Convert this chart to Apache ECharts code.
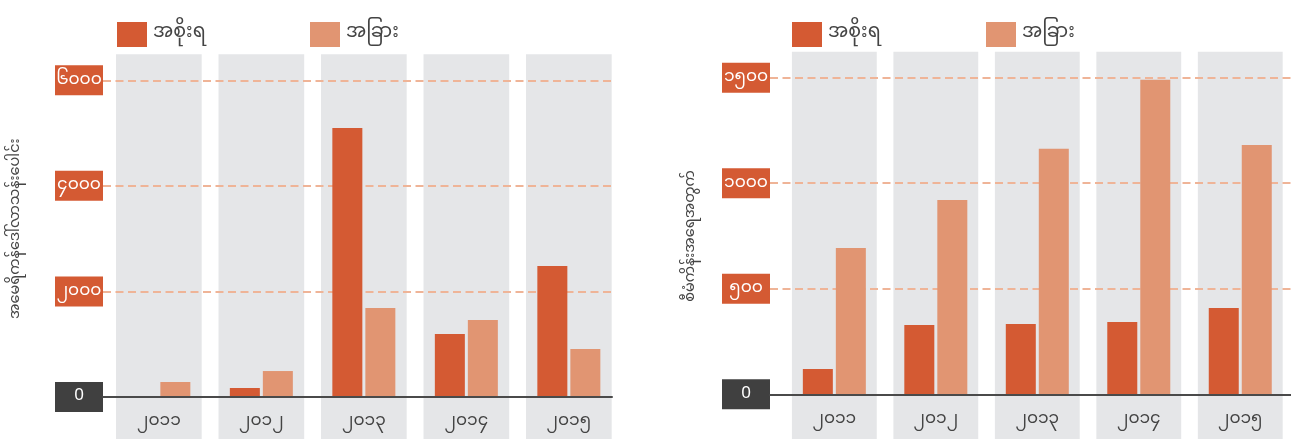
<!DOCTYPE html>
<html>
<head>
<meta charset="utf-8">
<script src="https://cdn.jsdelivr.net/npm/echarts@6/dist/echarts.min.js"></script>
<style>
  html, body { margin: 0; padding: 0; background: #fff; }
  #chart { width: 1291px; height: 439px; }
</style>
</head>
<body>
<div id="chart"></div>
<script>
// Years shown on both panels
const years = ['၂၀၁၁', '၂၀၁၂', '၂၀၁၃', '၂၀၁၄', '၂၀၁၅'];
const seriesNames = ['အစိုးရ', 'အခြား'];

// Left panel: value in US$ millions
const valueGov = [0, 170, 5095, 1193, 2481];
const valueOther = [284, 492, 1686, 1458, 909];
const valueTicks = [0, 2000, 4000, 6000];
const valueTickLabels = ['0', '၂၀၀၀', '၄၀၀၀', '၆၀၀၀'];
const valueTitle = 'အမေရိကန်ဒေါ်လာသန်းပေါင်း';

// Right panel: number of projects
const countGov = [120, 328, 333, 343, 409];
const countOther = [693, 921, 1163, 1490, 1181];
const countTicks = [0, 500, 1000, 1500];
const countTickLabels = ['0', '၅၀၀', '၁၀၀၀', '၁၅၀၀'];
const countTitle = 'စီမံကိန်းအရေအတွက်';

const GOV = '#d45a33';
const OTHER = '#e19572';
const BAND = '#e5e6e8';
const GRIDLINE = '#efb497';
const AXIS = '#4a4a4a';
const TEXT = '#444444';
const FONT = "'Noto Sans Myanmar', 'Noto Sans', 'DejaVu Sans', sans-serif";

const chart = echarts.init(document.getElementById('chart'), null, { renderer: 'canvas' });

function tickFormatter(ticks, labels) {
  return function (v) {
    const i = ticks.indexOf(v);
    const txt = i >= 0 ? labels[i] : String(v);
    return v === 0 ? '{z|' + txt + '}' : '{o|' + txt + '}';
  };
}

const boxStyle = { color: '#fff', width: 48, height: 27, lineHeight: 27, padding: [3, 0, 0, 0], align: 'center', verticalAlign: 'middle', fontSize: 17, fontFamily: FONT };
const labelRich = {
  o: Object.assign({ backgroundColor: GOV }, boxStyle),
  z: Object.assign({ backgroundColor: '#404040' }, boxStyle)
};

// Grey column behind each year, reaching from above the top gridline to the bottom edge
function bandRenderer(params, api) {
  const c = api.coord([api.value(0), 0]);
  const w = api.size([1, 0])[0] * 0.836;
  const top = params.coordSys.y - 26;
  return {
    type: 'rect',
    shape: { x: c[0] - w / 2, y: top, width: w, height: 500 },
    style: { fill: BAND }
  };
}

// frame grids carry the value axis, gridlines and baseline; plot grids carry columns and bars
const grids = [
  { left: 103, right: 1291 - 612, top: 80.3, bottom: 42 },        // 0 frame left
  { left: 107.6, width: 512.5, top: 80.3, bottom: 42 },           // 1 plot left
  { left: 770, right: 0, top: 77.7, bottom: 44.7 },               // 2 frame right
  { left: 783.6, width: 512.75, top: 77.7, bottom: 44.7 }         // 3 plot right
];

function frameX(gi) {
  return {
    type: 'category', gridIndex: gi, data: years, z: 4,
    axisLine: { show: true, lineStyle: { color: AXIS, width: 2 } },
    axisTick: { show: false }, axisLabel: { show: false }, splitLine: { show: false }
  };
}
function plotX(gi) {
  return {
    type: 'category', gridIndex: gi, data: years, z: 4,
    axisLine: { show: false }, axisTick: { show: false },
    axisLabel: { color: TEXT, fontSize: 17, fontFamily: FONT, margin: 18 }
  };
}
function frameY(gi, max, interval, ticks, labels, title, nameGap, shift) {
  return {
    type: 'value', gridIndex: gi, min: 0, max: max, interval: interval, z: 2,
    name: title, nameLocation: 'middle', nameRotate: 90, nameGap: nameGap,
    nameTextStyle: { color: TEXT, fontSize: 14.5, fontFamily: FONT, padding: [0, 0, 0, shift] },
    axisLine: { show: false }, axisTick: { show: false },
    axisLabel: { formatter: tickFormatter(ticks, labels), rich: labelRich, margin: 0 },
    splitLine: { show: true, lineStyle: { color: GRIDLINE, width: 2, type: [8, 4.5] } }
  };
}
function plotY(gi, max, interval) {
  return {
    type: 'value', gridIndex: gi, min: 0, max: max, interval: interval, show: false,
    splitLine: { show: false }
  };
}

function bars(name, data, color, xi, yi) {
  return {
    type: 'bar', name: name, data: data, xAxisIndex: xi, yAxisIndex: yi, z: 3,
    barWidth: 30, barGap: '10%', itemStyle: { color: color }, silent: true
  };
}
function bands(xi, yi) {
  return {
    type: 'custom', xAxisIndex: xi, yAxisIndex: yi, z: 1, silent: true, clip: false,
    data: years.map(function (y, i) { return [i, 0]; }),
    renderItem: bandRenderer
  };
}

function legendItem(name, left) {
  return {
    data: [name], left: left, top: 22, padding: 0, icon: 'rect', itemWidth: 30, itemHeight: 25, itemGap: 0,
    selectedMode: false,
    textStyle: { color: TEXT, fontSize: 19, fontFamily: FONT, padding: [0, 0, 0, 1] }
  };
}

chart.setOption({
  animation: false,
  backgroundColor: '#ffffff',
  grid: grids,
  legend: [
    legendItem(seriesNames[0], 117), legendItem(seriesNames[1], 310),
    legendItem(seriesNames[0], 792), legendItem(seriesNames[1], 986)
  ],
  xAxis: [frameX(0), plotX(1), frameX(2), plotX(3)],
  yAxis: [
    frameY(0, 6000, 2000, valueTicks, valueTickLabels, valueTitle, 78, 20),
    plotY(1, 6000, 2000),
    frameY(2, 1500, 500, countTicks, countTickLabels, countTitle, 70, 0),
    plotY(3, 1500, 500)
  ],
  series: [
    bands(1, 1),
    bars(seriesNames[0], valueGov, GOV, 1, 1),
    bars(seriesNames[1], valueOther, OTHER, 1, 1),
    bands(3, 3),
    bars(seriesNames[0], countGov, GOV, 3, 3),
    bars(seriesNames[1], countOther, OTHER, 3, 3)
  ]
});
</script>
</body>
</html>
